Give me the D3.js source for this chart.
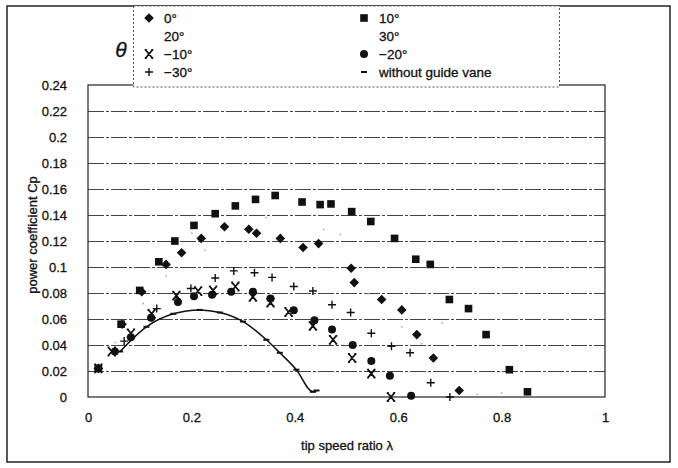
<!DOCTYPE html>
<html>
<head>
<meta charset="utf-8">
<script src="https://cdn.jsdelivr.net/npm/d3@7"></script>
<style>
  body { margin: 0; background: #fff; }
  svg { display: block; }
  text { font-family: "Liberation Sans", Arial, sans-serif; fill: #111; stroke: #111; stroke-width: 0.3; }
</style>
</head>
<body>
<svg id="chart" width="678" height="468"></svg>
<script>
// Power coefficient Cp against tip speed ratio λ for guide vane angles θ
const lam_p0   = [0.02, 0.066, 0.104, 0.151, 0.181, 0.219, 0.264, 0.311, 0.326, 0.372, 0.416, 0.446, 0.509, 0.515, 0.568, 0.607, 0.636, 0.668, 0.718];
const cp_p0    = [0.022, 0.056, 0.081, 0.102, 0.111, 0.122, 0.131, 0.129, 0.126, 0.122, 0.115, 0.118, 0.099, 0.088, 0.075, 0.067, 0.048, 0.030, 0.005];

const lam_p10  = [0.02, 0.064, 0.100, 0.137, 0.168, 0.205, 0.246, 0.285, 0.324, 0.362, 0.414, 0.449, 0.470, 0.510, 0.547, 0.593, 0.634, 0.662, 0.699, 0.736, 0.770, 0.815, 0.850];
const cp_p10   = [0.022, 0.056, 0.082, 0.104, 0.120, 0.132, 0.141, 0.147, 0.152, 0.155, 0.150, 0.148, 0.1485, 0.1426, 0.135, 0.122, 0.106, 0.102, 0.075, 0.068, 0.048, 0.021, 0.004];

const lam_p20  = [0.053, 0.151, 0.226, 0.345, 0.456, 0.542, 0.645, 0.753];
const cp_p20   = [0.042, 0.093, 0.113, 0.138, 0.129, 0.0795, 0.041, 0.002];

const lam_p30  = [0.107, 0.201, 0.488, 0.607, 0.685, 0.800];
const cp_p30   = [0.072, 0.126, 0.125, 0.054, 0.057, 0.003];

const lam_m10  = [0.02, 0.046, 0.083, 0.123, 0.171, 0.213, 0.242, 0.285, 0.319, 0.353, 0.388, 0.435, 0.474, 0.511, 0.548, 0.586];
const cp_m10   = [0.022, 0.035, 0.049, 0.064, 0.078, 0.0815, 0.082, 0.085, 0.077, 0.0726, 0.0654, 0.0547, 0.044, 0.030, 0.018, 0.0];

const lam_m20  = [0.02, 0.052, 0.083, 0.122, 0.174, 0.205, 0.240, 0.277, 0.319, 0.353, 0.398, 0.438, 0.472, 0.512, 0.548, 0.584, 0.625];
const cp_m20   = [0.022, 0.035, 0.046, 0.061, 0.073, 0.0775, 0.0787, 0.081, 0.081, 0.0757, 0.0667, 0.059, 0.052, 0.040, 0.0276, 0.0164, 0.001];

const lam_m30  = [0.07, 0.133, 0.199, 0.246, 0.282, 0.322, 0.356, 0.398, 0.435, 0.472, 0.508, 0.548, 0.587, 0.623, 0.663, 0.700];
const cp_m30   = [0.043, 0.068, 0.0835, 0.0915, 0.097, 0.0956, 0.092, 0.085, 0.0815, 0.071, 0.065, 0.049, 0.039, 0.034, 0.011, 0.0];

const lam_none = [0.062, 0.113, 0.165, 0.216, 0.255, 0.300, 0.345, 0.371, 0.403, 0.435, 0.442];
const cp_none  = [0.035, 0.054, 0.064, 0.067, 0.065, 0.058, 0.044, 0.034, 0.021, 0.004, 0.005];

const seriesNames = ["0°", "10°", "20°", "30°", "−10°", "−20°", "−30°", "without guide vane"];
const xTicks = [0, 0.2, 0.4, 0.6, 0.8, 1];
const xTickLabels = ["0", "0.2", "0.4", "0.6", "0.8", "1"];
const yTicks = [0, 0.02, 0.04, 0.06, 0.08, 0.1, 0.12, 0.14, 0.16, 0.18, 0.2, 0.22, 0.24];
const yTickLabels = ["0", "0.02", "0.04", "0.06", "0.08", "0.1", "0.12", "0.14", "0.16", "0.18", "0.2", "0.22", "0.24"];

const zip = (a, b) => a.map((v, i) => ({ x: v, y: b[i] }));

const series = [
  { name: seriesNames[0], pts: zip(lam_p0, cp_p0),   mark: "diamond" },
  { name: seriesNames[1], pts: zip(lam_p10, cp_p10), mark: "square" },
  { name: seriesNames[2], pts: zip(lam_p20, cp_p20), mark: "speck" },
  { name: seriesNames[3], pts: zip(lam_p30, cp_p30), mark: "speck" },
  { name: seriesNames[4], pts: zip(lam_m10, cp_m10), mark: "cross" },
  { name: seriesNames[5], pts: zip(lam_m20, cp_m20), mark: "circle" },
  { name: seriesNames[6], pts: zip(lam_m30, cp_m30), mark: "plus" },
  { name: seriesNames[7], pts: zip(lam_none, cp_none), mark: "dash", line: true }
];

const svg = d3.select("#chart");
const x = d3.scaleLinear().domain([0, 1]).range([88, 605]);
const y = d3.scaleLinear().domain([0, 0.24]).range([397, 85]);

// outer chart frame
svg.append("rect").attr("x", 7).attr("y", 6).attr("width", 663).attr("height", 456)
  .attr("fill", "#fff").attr("stroke", "#222").attr("stroke-width", 1.5);

// horizontal gridlines
svg.append("g").selectAll("line").data(yTicks.filter(t => t > 0 && t < 0.24)).join("line")
  .attr("x1", x(0)).attr("x2", x(1))
  .attr("y1", d => Math.round(y(d)) + 0.5).attr("y2", d => Math.round(y(d)) + 0.5)
  .attr("stroke", "#444").attr("stroke-width", 1).attr("stroke-dasharray", "16,2,3,2");

// plot frame
svg.append("rect").attr("x", x(0)).attr("y", y(0.24)).attr("width", x(1) - x(0)).attr("height", y(0) - y(0.24))
  .attr("fill", "none").attr("stroke", "#222").attr("stroke-width", 1.2);

// axes (labels only)
const yAxis = d3.axisLeft(y).tickValues(yTicks).tickSize(0).tickPadding(0)
  .tickFormat((d, i) => yTickLabels[i]);
const gy = svg.append("g").attr("transform", "translate(67,0)").call(yAxis);
gy.select(".domain").remove();
gy.selectAll("text").attr("font-size", 13).attr("font-family", "Liberation Sans, Arial, sans-serif")
  .attr("fill", "#111").attr("stroke", "#111").attr("stroke-width", 0.3);

const xAxis = d3.axisBottom(x).tickValues(xTicks).tickSize(0).tickPadding(0)
  .tickFormat((d, i) => xTickLabels[i]);
const gx = svg.append("g").attr("transform", "translate(0,413)").call(xAxis);
gx.select(".domain").remove();
gx.selectAll("text").attr("font-size", 13).attr("font-family", "Liberation Sans, Arial, sans-serif")
  .attr("fill", "#111").attr("stroke", "#111").attr("stroke-width", 0.3);

// axis titles
svg.append("text").attr("x", 347).attr("y", 450).attr("text-anchor", "middle").attr("font-size", 13)
  .text("tip speed ratio  λ");
svg.append("text").attr("transform", "translate(37,235) rotate(-90)").attr("text-anchor", "middle").attr("font-size", 13)
  .text("power coefficient Cp");

// marker drawing
function drawMark(g, kind) {
  switch (kind) {
    case "diamond":
      g.append("path").attr("d", "M0,-4.8L4.8,0L0,4.8L-4.8,0Z").attr("fill", "#111"); break;
    case "square":
      g.append("rect").attr("x", -3.8).attr("y", -3.8).attr("width", 7.6).attr("height", 7.6).attr("fill", "#111"); break;
    case "circle":
      g.append("circle").attr("r", 4).attr("fill", "#111"); break;
    case "cross":
      g.append("path").attr("d", "M-3.3,-4L3.3,4M3.3,-4L-3.3,4M-4.2,-4H-2.2M2.2,-4H4.2M-4.2,4H-2.2M2.2,4H4.2")
        .attr("stroke", "#111").attr("stroke-width", 1.8).attr("fill", "none"); break;
    case "plus":
      g.append("path").attr("d", "M-4,0H4M0,-4V4").attr("stroke", "#111").attr("stroke-width", 1.4).attr("fill", "none"); break;
    case "dash":
      g.append("path").attr("d", "M-3,0H3").attr("stroke", "#111").attr("stroke-width", 2).attr("fill", "none"); break;
    case "speck":
      g.append("circle").attr("r", 0.9).attr("fill", "#aaa"); break;
  }
}

// curve for the case without guide vane
const noVane = series.find(s => s.line);
svg.append("path").datum(noVane.pts)
  .attr("d", d3.line().x(d => x(d.x)).y(d => y(d.y)).curve(d3.curveMonotoneX))
  .attr("fill", "none").attr("stroke", "#111").attr("stroke-width", 1.5);

// point markers
series.forEach(s => {
  const g = svg.append("g");
  s.pts.forEach(p => {
    const m = g.append("g").attr("transform", `translate(${x(p.x)},${y(p.y)})`);
    drawMark(m, s.mark);
  });
});

// legend
const lg = svg.append("g");
lg.append("rect").attr("x", 133.5).attr("y", 6).attr("width", 426).attr("height", 81)
  .attr("fill", "#fff").attr("stroke", "#555").attr("stroke-width", 1).attr("stroke-dasharray", "2,2");
svg.append("text").attr("x", 121).attr("y", 57).attr("text-anchor", "middle")
  .attr("font-size", 21).attr("font-style", "italic").attr("stroke-width", 0.2).text("θ");
const colX = [149, 364], rowY = [18, 36, 54, 72];
series.forEach((s, i) => {
  const cx = colX[i % 2], cy = rowY[Math.floor(i / 2)];
  if (s.mark !== "speck") {
    const m = lg.append("g").attr("transform", `translate(${cx},${cy})`);
    drawMark(m, s.mark);
  }
  lg.append("text").attr("x", cx + 15).attr("y", cy + 4.5).attr("font-size", 13.5).text(s.name);
});
</script>
</body>
</html>
